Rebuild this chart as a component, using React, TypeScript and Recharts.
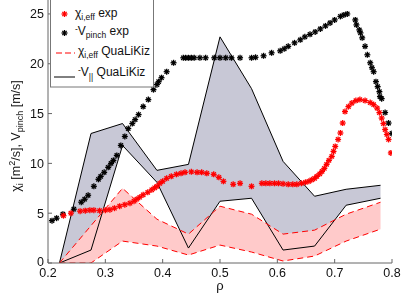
import React from "react";
import { ComposedChart, Area, Line, Scatter, XAxis, YAxis } from "recharts";

// band nodes (QuaLiKiz runs)
const bandX = [0.22, 0.275, 0.33, 0.39, 0.445, 0.5, 0.555, 0.61, 0.665, 0.72, 0.78];
const vParUpper = [0, 13.0, 14.0, 9.3, 9.9, 22.7, 17.5, 10.2, 6.7, 7.4, 7.8];
const vParLower = [0, 1.3, 11.8, 8.1, 1.5, 6.2, 6.5, 1.3, 1.7, 5.8, 6.5];
const chiUpper = [0, 3.75, 7.5, 4.4, 2.9, 5.7, 4.9, 2.9, 3.3, 4.9, 6.1];
const chiLower = [0, 0, 2.2, 1.7, 0.8, 1.8, 1.1, 0.2, 0.7, 2.2, 3.4];

// experimental profiles
const vPinchX = [
  0.207, 0.215, 0.226, 0.245, 0.258, 0.264, 0.27, 0.28, 0.288, 0.292, 0.298, 0.305, 0.31, 0.314, 0.32,
  0.327, 0.334, 0.34, 0.347, 0.352, 0.358, 0.366, 0.375, 0.384, 0.39, 0.393, 0.398, 0.407, 0.419, 0.436,
  0.44, 0.445, 0.45, 0.455, 0.465, 0.475, 0.49, 0.5, 0.51, 0.52, 0.535, 0.555, 0.562, 0.576, 0.59,
  0.605, 0.612, 0.619, 0.63, 0.64, 0.648, 0.657, 0.666, 0.675, 0.684, 0.692, 0.7, 0.71, 0.716, 0.722,
  0.736, 0.738, 0.743, 0.745, 0.748, 0.753, 0.757, 0.762, 0.765, 0.768, 0.772, 0.775, 0.778, 0.779,
  0.782, 0.788, 0.794, 0.8,
];
const vPinchY = [
  4.25, 4.5, 4.9, 5.4, 6.1, 6.4, 6.8, 7.7, 8.4, 8.7, 9.1, 9.6, 10.0, 10.3, 10.8,
  11.8, 12.7, 13.5, 14.0, 14.4, 14.9, 15.7, 16.4, 17.4, 17.9, 18.2, 18.6, 19.2, 20.1, 20.6,
  20.6, 20.6, 20.6, 20.6, 20.6, 20.6, 20.6, 20.6, 20.6, 20.6, 20.6, 20.6, 20.65, 20.8, 21.1,
  21.3, 21.5, 21.75, 22.1, 22.4, 22.7, 22.95, 23.2, 23.5, 23.8, 24.1, 24.4, 24.75, 24.9, 25.0,
  24.4, 23.9, 23.4, 23.1, 22.6, 21.75, 20.9, 20.1, 19.6, 19.2, 18.2, 17.7, 17.2, 16.7,
  16.5, 15.1, 14.05, 13.0,
];
const chiExpX = [
  0.227, 0.24, 0.256, 0.265, 0.273, 0.28, 0.29, 0.3, 0.308, 0.316, 0.325, 0.334, 0.343, 0.35, 0.355,
  0.36, 0.366, 0.374, 0.381, 0.386, 0.39, 0.395, 0.4, 0.407, 0.415, 0.424, 0.432, 0.439, 0.45, 0.46,
  0.468, 0.477, 0.489, 0.498, 0.506, 0.523, 0.535, 0.555, 0.573, 0.58, 0.587, 0.595, 0.602, 0.61,
  0.619, 0.627, 0.634, 0.642, 0.649, 0.655, 0.66, 0.665, 0.669, 0.674, 0.678, 0.682, 0.686, 0.69,
  0.695, 0.698, 0.701, 0.706, 0.71, 0.714, 0.718, 0.724, 0.73, 0.737, 0.744, 0.753, 0.762, 0.768,
  0.774, 0.778, 0.782, 0.785, 0.788, 0.791, 0.794, 0.798,
];
const chiExpY = [
  4.75, 5.0, 5.2, 5.25, 5.3, 5.3, 5.25, 5.3, 5.35, 5.5, 5.7, 5.85, 6.0, 6.2, 6.4,
  6.6, 6.85, 7.1, 7.35, 7.55, 7.7, 8.0, 8.2, 8.5, 8.7, 8.9, 9.0, 9.1, 9.15, 9.1,
  9.1, 9.0, 8.9, 8.6, 8.2, 7.9, 8.0, 7.7, 8.0, 8.0, 8.0, 8.0, 8.0, 7.95,
  7.9, 7.9, 7.9, 8.0, 8.1, 8.2, 8.35, 8.5, 8.7, 8.95, 9.2, 9.5, 9.9, 10.3,
  10.7, 11.2, 11.7, 12.4, 13.05, 14.05, 15.2, 15.7, 16.05, 16.3, 16.4, 16.3, 16.1, 15.9,
  15.55, 15.1, 14.55, 14.0, 13.4, 12.9, 12.4, 11.05,
];

const xTicks = [0.2, 0.3, 0.4, 0.5, 0.6, 0.7, 0.8];
const yTicks = [0, 5, 10, 15, 20, 25];

const bandRows = bandX.map((x, i) => ({
  x,
  vRange: [vParLower[i], vParUpper[i]],
  chiRange: [chiLower[i], chiUpper[i]],
  vUp: vParUpper[i],
  vLo: vParLower[i],
  chiUp: chiUpper[i],
  chiLo: chiLower[i],
}));
const vPinchPts = vPinchX.map((x, i) => ({ x, y: vPinchY[i] }));
const chiExpPts = chiExpX.map((x, i) => ({ x, y: chiExpY[i] }));

const FONT = "'Liberation Sans', Arial, Helvetica, sans-serif";
const AXIS = "#666";

function Star({ cx, cy, color }: { cx: number; cy: number; color: string }) {
  const r = 3;
  const d = r * 0.72;
  return (
    <g stroke={color} strokeWidth={1.3}>
      <line x1={cx - r} y1={cy} x2={cx + r} y2={cy} />
      <line x1={cx} y1={cy - r} x2={cx} y2={cy + r} />
      <line x1={cx - d} y1={cy - d} x2={cx + d} y2={cy + d} />
      <line x1={cx - d} y1={cy + d} x2={cx + d} y2={cy - d} />
    </g>
  );
}

const XTick = (props: any) => {
  const { x, y, payload } = props;
  return (
    <g>
      <line x1={x} y1={y} x2={x} y2={y - 4} stroke={AXIS} />
      <text x={x} y={y + 13.5} textAnchor="middle" fontSize={12.5} fontFamily={FONT} fill="#111">
        {Number(payload.value).toFixed(1)}
      </text>
    </g>
  );
};

const YTick = (props: any) => {
  const { x, y, payload } = props;
  return (
    <g>
      <line x1={x} y1={y} x2={x + 4} y2={y} stroke={AXIS} />
      <text x={x - 4} y={y + (payload.value === 0 ? 3 : 4.5)} textAnchor="end" fontSize={12.5} fontFamily={FONT} fill="#111">
        {payload.value}
      </text>
    </g>
  );
};

function Legend() {
  const t = { fontSize: 12, fontFamily: FONT, fill: "#111" } as const;
  const sub = { fontSize: 8.5 } as const;
  return (
    <svg width={415} height={296} style={{ position: "absolute", left: 0, top: 0, pointerEvents: "none" }}>
      <rect x={50.5} y={-1} width={103} height={88} fill="#fff" stroke="#777" />
      <Star cx={64.5} cy={14} color="#ff0000" />
      <text x={75} y={17} {...t}>
        χ<tspan dy={3} {...sub}>i,eff</tspan>
        <tspan dy={-3}> exp</tspan>
      </text>
      <Star cx={64.5} cy={33} color="#000" />
      <text x={75} y={35} {...t}>
        <tspan {...sub} dy={-3}>-</tspan>
        <tspan dy={3}>V</tspan>
        <tspan dy={3} {...sub}>pinch</tspan>
        <tspan dy={-3}> exp</tspan>
      </text>
      <line x1={56} y1={53} x2={75} y2={53} stroke="#ff0000" strokeDasharray="6 3" />
      <text x={78} y={55} {...t}>
        χ<tspan dy={3} {...sub}>i,eff</tspan>
        <tspan dy={-3}> QuaLiKiz</tspan>
      </text>
      <line x1={54} y1={77} x2={75} y2={77} stroke="#000" />
      <text x={78} y={76} {...t}>
        <tspan {...sub} dy={-3}>-</tspan>
        <tspan dy={3}>V</tspan>
        <tspan dy={4} {...sub}>||</tspan>
        <tspan dy={-4}> QuaLiKiz</tspan>
      </text>
    </svg>
  );
}

export default function App() {
  return (
    <div style={{ position: "relative", width: 415, height: 296, background: "#fff" }}>
      <style>{`body{margin:0} .recharts-area-area{mix-blend-mode:multiply}`}</style>
      <ComposedChart width={415} height={296} data={bandRows} margin={{ top: 0, right: 23, bottom: 0, left: 0 }}>
        <XAxis
          type="number"
          dataKey="x"
          domain={[0.2, 0.8]}
          ticks={xTicks}
          allowDataOverflow
          tickSize={0}
          tickMargin={0}
          height={33}
          stroke={AXIS}
          tick={<XTick />}
          label={{ value: "ρ", position: "insideBottom", offset: 6, fontSize: 13, fontFamily: FONT, fill: "#111" }}
        />
        <YAxis
          type="number"
          domain={[0, 26.4]}
          ticks={yTicks}
          allowDataOverflow
          tickSize={0}
          tickMargin={0}
          width={48}
          stroke={AXIS}
          tick={<YTick />}
        />
        <Area type="linear" dataKey="vRange" stroke="none" fill="#c8c8d6" fillOpacity={1} isAnimationActive={false} />
        <Area type="linear" dataKey="chiRange" stroke="none" fill="#ffcaca" fillOpacity={1} isAnimationActive={false} />
        <Line type="linear" dataKey="vUp" stroke="#000" strokeWidth={1} dot={false} isAnimationActive={false} />
        <Line type="linear" dataKey="vLo" stroke="#000" strokeWidth={1} dot={false} isAnimationActive={false} />
        <Line type="linear" dataKey="chiUp" stroke="#ff0000" strokeWidth={1} strokeDasharray="6 4" dot={false} isAnimationActive={false} />
        <Line type="linear" dataKey="chiLo" stroke="#ff0000" strokeWidth={1} strokeDasharray="6 4" dot={false} isAnimationActive={false} />
        <Scatter data={vPinchPts} dataKey="y" isAnimationActive={false} shape={(p: any) => <Star cx={p.cx} cy={p.cy} color="#000" />} />
        <Scatter data={chiExpPts} dataKey="y" isAnimationActive={false} shape={(p: any) => <Star cx={p.cx} cy={p.cy} color="#ff0000" />} />
      </ComposedChart>
      <Legend />
      <svg width={415} height={296} style={{ position: "absolute", left: 0, top: 0, pointerEvents: "none" }}>
        <text transform="translate(20,136) rotate(-90)" textAnchor="middle" fontSize={12.5} fontFamily={FONT} fill="#111">
          χ<tspan dy={3} fontSize={9}>i</tspan>
          <tspan dy={-3}> [m</tspan>
          <tspan dy={-5} fontSize={9}>2</tspan>
          <tspan dy={5}>/s], V</tspan>
          <tspan dy={3} fontSize={9}>pinch</tspan>
          <tspan dy={-3}> [m/s]</tspan>
        </text>
      </svg>
    </div>
  );
}
